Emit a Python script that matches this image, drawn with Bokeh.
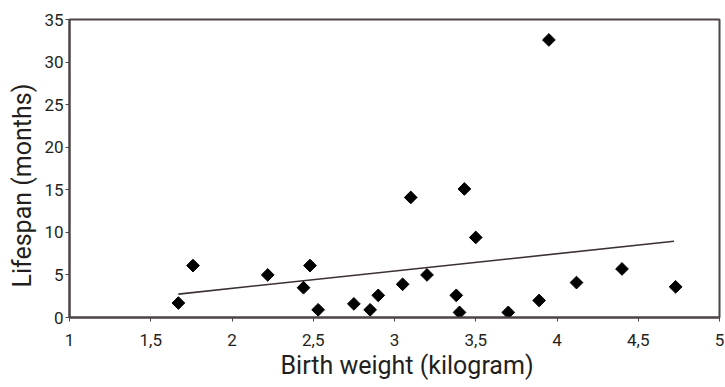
import math
from bokeh.plotting import figure
from bokeh.models import FixedTicker, Range1d, Title
from bokeh.embed import file_html
from bokeh.resources import INLINE

# Data
birth_weight = [1.67, 1.76, 2.22, 2.44, 2.48, 2.53, 2.75, 2.85, 2.90, 3.05, 3.10,
                3.20, 3.38, 3.40, 3.43, 3.50, 3.70, 3.89, 3.95, 4.12, 4.40, 4.73]
lifespan = [1.7, 6.1, 5.0, 3.5, 6.1, 0.9, 1.6, 0.9, 2.6, 3.9, 14.1,
            5.0, 2.6, 0.6, 15.1, 9.4, 0.6, 2.0, 32.6, 4.1, 5.7, 3.6]
trend_x = [1.67, 4.72]
trend_y = [2.75, 8.95]

x_ticks = [1, 1.5, 2, 2.5, 3, 3.5, 4, 4.5, 5]
x_tick_labels = ["1", "1,5", "2", "2,5", "3", "3,5", "4", "4,5", "5"]
y_ticks = [0, 5, 10, 15, 20, 25, 30, 35]
y_tick_labels = ["0", "5", "10", "15", "20", "25", "30", "35"]

FONT = "Roboto"
TXT = "#231f20"
AX = "#4d4545"

p = figure(width=725, height=387, output_backend="svg", toolbar_location=None,
           x_range=Range1d(1, 5), y_range=Range1d(0, 35),
           min_border_left=69, min_border_right=6, min_border_top=19, min_border_bottom=70)

p.xgrid.visible = False
p.ygrid.visible = False
p.outline_line_color = AX
p.outline_line_width = 2

p.line(trend_x, trend_y, line_color="#3a3030", line_width=1.6)
p.scatter(birth_weight, lifespan, marker="square", angle=math.pi / 4, size=9,
          fill_color="black", line_color="black")

p.xaxis.ticker = FixedTicker(ticks=x_ticks)
p.xaxis.major_label_overrides = {t: l for t, l in zip(x_ticks, x_tick_labels)}
p.yaxis.ticker = FixedTicker(ticks=y_ticks)
p.yaxis.major_label_overrides = {t: l for t, l in zip(y_ticks, y_tick_labels)}

for ax in (p.xaxis[0], p.yaxis[0]):
    ax.axis_line_color = AX
    ax.axis_line_width = 2
    ax.major_tick_line_color = AX
    ax.major_tick_line_width = 1
    ax.major_tick_in = 0
    ax.major_tick_out = 4
    ax.minor_tick_line_color = None
    ax.major_label_text_font = FONT
    ax.major_label_text_font_size = "17px"
    ax.major_label_text_color = TXT

p.xaxis.major_label_standoff = 12
p.yaxis.major_label_standoff = 2

xlab = Title(text="Birth weight (kilogram)", align="left", vertical_align="bottom",
             offset=211, standoff=0, text_font=FONT, text_font_size="25px",
             text_font_style="normal", text_color=TXT)
ylab = Title(text="Lifespan (months)", align="left", vertical_align="bottom",
             offset=30, standoff=10, text_font=FONT, text_font_size="25px",
             text_font_style="normal", text_color=TXT)
p.add_layout(xlab, "below")
p.add_layout(ylab, "left")

open("out.html", "w").write(file_html(p, INLINE))
